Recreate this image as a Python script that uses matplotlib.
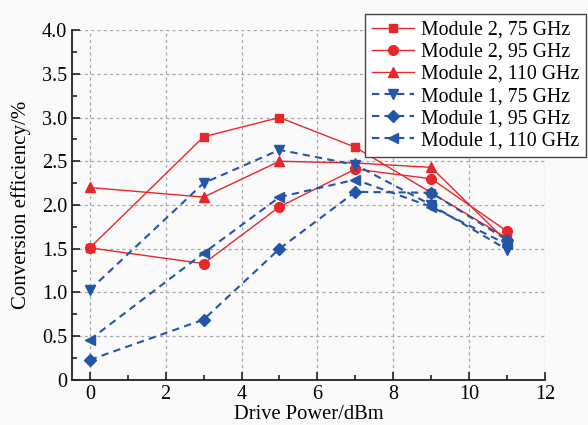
import matplotlib
matplotlib.use("Agg")
import matplotlib.pyplot as plt
from matplotlib.ticker import MultipleLocator

plt.rcParams['font.family'] = ['Liberation Serif', 'DejaVu Serif']
plt.rcParams['mathtext.fontset'] = 'stix'

x = [0, 3, 5, 7, 9, 11]
m2_75 = [1.51, 2.78, 3.00, 2.66, 2.14, 1.62]
m2_95 = [1.51, 1.33, 1.98, 2.41, 2.30, 1.70]
m2_110 = [2.20, 2.09, 2.50, 2.48, 2.43, 1.58]
m1_75 = [1.03, 2.25, 2.63, 2.46, 2.00, 1.49]
m1_95 = [0.23, 0.69, 1.50, 2.15, 2.14, 1.60]
m1_110 = [0.46, 1.45, 2.09, 2.29, 1.98, 1.55]

labels = ["Module 2, 75 GHz", "Module 2, 95 GHz", "Module 2, 110 GHz",
          "Module 1, 75 GHz", "Module 1, 95 GHz", "Module 1, 110 GHz"]
xticks = [0, 2, 4, 6, 8, 10, 12]
yticks = [0, 0.5, 1.0, 1.5, 2.0, 2.5, 3.0, 3.5, 4.0]
yticklabels = ["0", "0.5", "1.0", "1.5", "2.0", "2.5", "3.0", "3.5", "4.0"]

red = '#e8272b'
blue = '#2356a8'

fig = plt.figure(figsize=(5.88, 4.25), dpi=100, facecolor='#fafafa')
ax = fig.add_axes([0.1224, 0.1059, 0.8045, 0.8235])
ax.set_facecolor('#fafafa')

dash = (0, (3.5, 2.5))
ax.plot(x, m2_75, color=red, lw=1.0, marker='s', ms=6.3, label=labels[0])
ax.plot(x, m2_95, color=red, lw=1.0, marker='o', ms=7, label=labels[1])
ax.plot(x, m2_110, color=red, lw=1.0, marker='^', ms=7.5, label=labels[2])
ax.plot(x, m1_75, color=blue, lw=1.5, ls=dash, marker='v', ms=7.5, label=labels[3])
ax.plot(x, m1_95, color=blue, lw=1.5, ls=dash, marker='D', ms=6.3, label=labels[4])
ax.plot(x, m1_110, color=blue, lw=1.5, ls=dash, marker='<', ms=7.5, label=labels[5])

ax.set_xlim(-0.47, 12)
ax.set_ylim(0, 4.0)
ax.set_xticks(xticks)
ax.set_yticks(yticks)
ax.set_yticklabels(yticklabels)
ax.xaxis.set_minor_locator(MultipleLocator(1))
ax.yaxis.set_minor_locator(MultipleLocator(0.25))
ax.tick_params(which='both', direction='in', labelsize=14.5, color='#222222', width=1.2)
ax.tick_params(which='major', length=6)
ax.tick_params(which='minor', length=3.5)
ax.tick_params(axis='x', pad=3.5)

for s in ['top', 'right']:
    ax.spines[s].set_visible(False)
for s in ['left', 'bottom']:
    ax.spines[s].set_linewidth(1.3)
    ax.spines[s].set_color('#222222')

ax.grid(True, which='major', ls=(0, (2.5, 2.5)), color='#a8a8a8', lw=0.9)

ax.set_xlabel("Drive Power/dBm", fontsize=14.8)
ax.xaxis.set_label_coords(0.5, -0.1)
ax.xaxis.label.set_va('center')
ax.set_ylabel("Conversion efficiency/%", fontsize=15, labelpad=8)

leg = fig.legend(loc='upper right', bbox_to_anchor=(0.997, 0.968), fontsize=14.3,
                 frameon=True, fancybox=False, framealpha=1, edgecolor='#444444',
                 handlelength=2.1, labelspacing=0.16, borderpad=0.35, handletextpad=0.35,
                 borderaxespad=0)
leg.get_frame().set_linewidth(1.0)
leg.get_frame().set_facecolor('white')

fig.savefig("out.png", dpi=100, facecolor=fig.get_facecolor())
